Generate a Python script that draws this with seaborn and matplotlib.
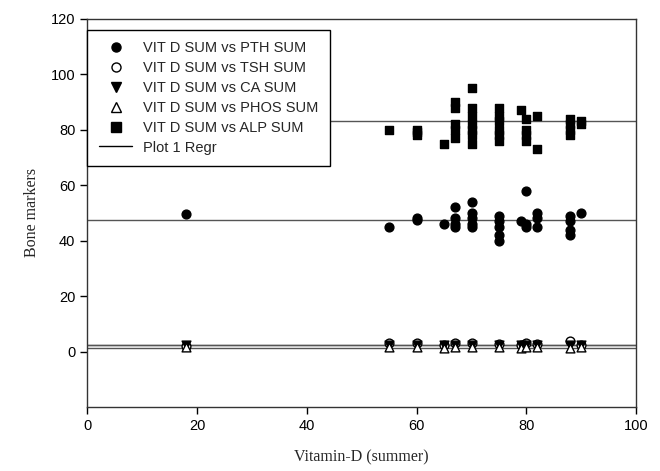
import numpy as np
import pandas as pd
import matplotlib
matplotlib.use("Agg")
import matplotlib.pyplot as plt
import seaborn as sns

# ---- data ----
alp_x = [55, 60, 60, 60, 65, 67, 67, 67, 67, 67, 70, 70, 70, 70, 70, 70, 70,
         75, 75, 75, 75, 75, 75, 79, 80, 80, 80, 80, 82, 82, 88, 88, 88, 88, 90, 90]
alp_y = [80, 79, 78, 80, 75, 90, 88, 82, 80, 77, 95, 88, 85, 82, 80, 78, 75,
         88, 85, 83, 80, 78, 76, 87, 84, 80, 78, 76, 85, 73, 84, 82, 80, 78, 83, 82]

pth_x = [18, 55, 60, 60, 65, 67, 67, 67, 67, 70, 70, 70, 70, 70,
         75, 75, 75, 75, 75, 79, 80, 80, 80, 82, 82, 82, 88, 88, 88, 88, 90]
pth_y = [49.5, 45, 48, 47.5, 46, 52, 48, 46, 45, 54, 50, 48, 46, 45,
         49, 47, 45, 42, 40, 47, 58, 46, 45, 50, 48, 45, 49, 47, 44, 42, 50]

low_x = [18, 55, 60, 65, 67, 70, 75, 79, 80, 82, 88, 90]
tsh_y = [2.0, 3.0, 3.0, 2.5, 3.0, 3.2, 2.8, 2.5, 3.0, 2.6, 3.8, 2.5]
ca_y = [2.2, 2.3, 2.3, 2.3, 2.3, 2.3, 2.3, 2.3, 2.3, 2.3, 2.3, 2.3]
phos_y = [1.6, 1.8, 1.5, 1.4, 1.6, 1.5, 1.5, 1.4, 1.6, 1.5, 1.3, 1.5]

series_labels = ["VIT D SUM vs PTH SUM", "VIT D SUM vs TSH SUM", "VIT D SUM vs CA SUM",
                 "VIT D SUM vs PHOS SUM", "VIT D SUM vs ALP SUM"]
regr_label = "Plot 1 Regr"
regr_x = [0, 100]
regr_levels = [47.5, 2.4, 2.3, 1.2, 83.2]

x_label = "Vitamin-D (summer)"
y_label = "Bone markers"
x_ticks = [0, 20, 40, 60, 80, 100]
y_ticks = [0, 20, 40, 60, 80, 100, 120]

# ---- plotting ----
sns.set_style("ticks")
plt.rcParams['font.family'] = ['Liberation Sans', 'DejaVu Sans']

fig = plt.figure(figsize=(6.6, 4.71), dpi=100)
ax = fig.add_axes([0.132, 0.136, 0.832, 0.824])

# regression lines
for lvl in regr_levels:
    sns.lineplot(x=regr_x, y=[lvl, lvl], ax=ax, color="#555555", linewidth=1.0,
                 zorder=1)

styles = [
    dict(marker="o", facecolor="black", edgecolor="black"),
    dict(marker="o", facecolor="white", edgecolor="black"),
    dict(marker="v", facecolor="black", edgecolor="black"),
    dict(marker="^", facecolor="white", edgecolor="black"),
    dict(marker="s", facecolor="black", edgecolor="black"),
]
xs = [pth_x, low_x, low_x, low_x, alp_x]
ys = [pth_y, tsh_y, ca_y, phos_y, alp_y]

handles = []
for x, y, st, lab in zip(xs, ys, styles, series_labels):
    df = pd.DataFrame({"x": x, "y": y})
    sns.scatterplot(data=df, x="x", y="y", ax=ax, marker=st["marker"], s=40,
                    color=st["facecolor"], edgecolor=st["edgecolor"], linewidth=1.0,
                    zorder=3)
    handles.append(plt.Line2D([], [], linestyle="none", marker=st["marker"],
                              markersize=6.5, markerfacecolor=st["facecolor"],
                              markeredgecolor=st["edgecolor"], markeredgewidth=1.0,
                              label=lab))
handles.append(plt.Line2D([], [], color="black", linewidth=1.0, label=regr_label))

ax.set_xlim(0, 100)
ax.set_ylim(-20, 120)
ax.set_xticks(x_ticks)
ax.set_yticks(y_ticks)
ax.tick_params(direction="out", length=5, width=1, colors="black", labelsize=10.5)
for sp in ax.spines.values():
    sp.set_visible(True)
    sp.set_color("#333333")
    sp.set_linewidth(1.0)

ax.set_xlabel(x_label, family="Liberation Serif", fontsize=11.5, labelpad=12)
ax.set_ylabel(y_label, family="Liberation Serif", fontsize=11.5, labelpad=8)

leg = ax.legend(handles=handles, loc="upper left", bbox_to_anchor=(0.0, 0.972),
                frameon=True, fancybox=False, framealpha=1, edgecolor="black",
                fontsize=10.5, borderaxespad=0, handlelength=2.3, labelspacing=0.4,
                borderpad=0.8, handletextpad=0.7)
leg.get_frame().set_linewidth(1.0)
leg.set_zorder(5)

fig.savefig("out.png", dpi=100)
